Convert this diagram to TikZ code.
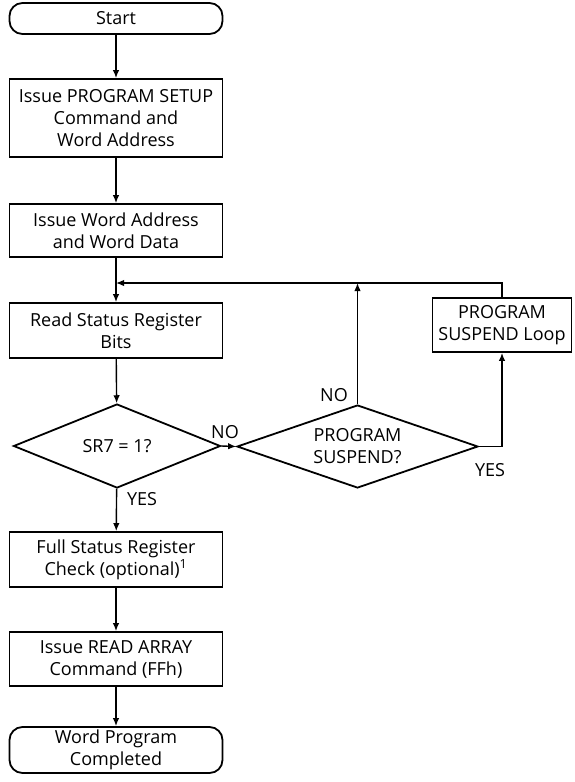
\documentclass[tikz,border=0pt]{standalone}
\usepackage{fontspec}
\setmainfont{Open Sans}
\usetikzlibrary{arrows.meta,shapes.geometric}

\begin{document}
\begin{tikzpicture}[x=1pt, y=-1pt,
    every node/.style={font=\fontsize{18}{22}\selectfont, align=center},
    proc/.style={draw, line width=1.8pt, minimum width=213pt, inner sep=0pt},
    term/.style={proc, rounded corners=13pt},
    decide/.style={draw, diamond, line width=1.8pt, inner sep=-3pt},
    arr/.style={line width=1.4pt, -{Latex[length=8pt,width=6.5pt]}}]
    \useasboundingbox (0,0) rectangle (574,782);

    % Main column
    \node[term, minimum height=31pt] (start) at (116,18.5) {Start};
    \node[proc, minimum height=78pt] (setup) at (116,118) {Issue PROGRAM SETUP\\Command and\\Word Address};
    \node[proc, minimum height=53pt] (wordaddr) at (116,230.5) {Issue Word Address\\and Word Data};
    \node[proc, minimum height=55pt] (readsr) at (116,330.5) {Read Status Register\\Bits};
    \node[decide, aspect=2.46, minimum width=207pt, minimum height=84pt] (srseven) at (117,446) {SR7 = 1?};
    \node[proc, minimum height=55pt] (fullchk) at (116,559.5) {Full Status Register\\Check (optional)\textsuperscript{1}};
    \node[proc, minimum height=54pt] (readarr) at (116,659) {Issue READ ARRAY\\Command (FFh)};
    \node[term, minimum height=46pt] (done) at (116,750) {Word Program\\Completed};

    % Suspend branch
    \node[decide, aspect=2.9, minimum width=241pt, minimum height=83pt] (suspq) at (357.5,446.5) {PROGRAM\\SUSPEND?};
    \node[proc, minimum width=139pt, minimum height=54pt] (susploop) at (502,325) {PROGRAM\\SUSPEND Loop};
    \coordinate (join) at (116,283);

    % Flow lines
    \draw[arr] (start) -- (setup);
    \draw[arr] (setup) -- (wordaddr);
    \draw[arr] (wordaddr) -- (readsr);
    \draw[arr] (readsr) -- (srseven);
    \draw[arr] (srseven) -- (fullchk);
    \draw[arr] (fullchk) -- (readarr);
    \draw[arr] (readarr) -- (done);
    \draw[arr] (srseven.east) -- (suspq.west);
    \draw[arr] (suspq.north) -- (suspq.north |- join);
    \draw[arr] (suspq.east) -| (susploop.south);
    \draw[arr] (susploop.north) |- (join);

    % Branch labels
    \node (srno) at (225,432) {NO};
    \node (sryes) at (142,499) {YES};
    \node (suspno) at (334,395) {NO};
    \node (suspyes) at (490,470) {YES};
\end{tikzpicture}
\end{document}
